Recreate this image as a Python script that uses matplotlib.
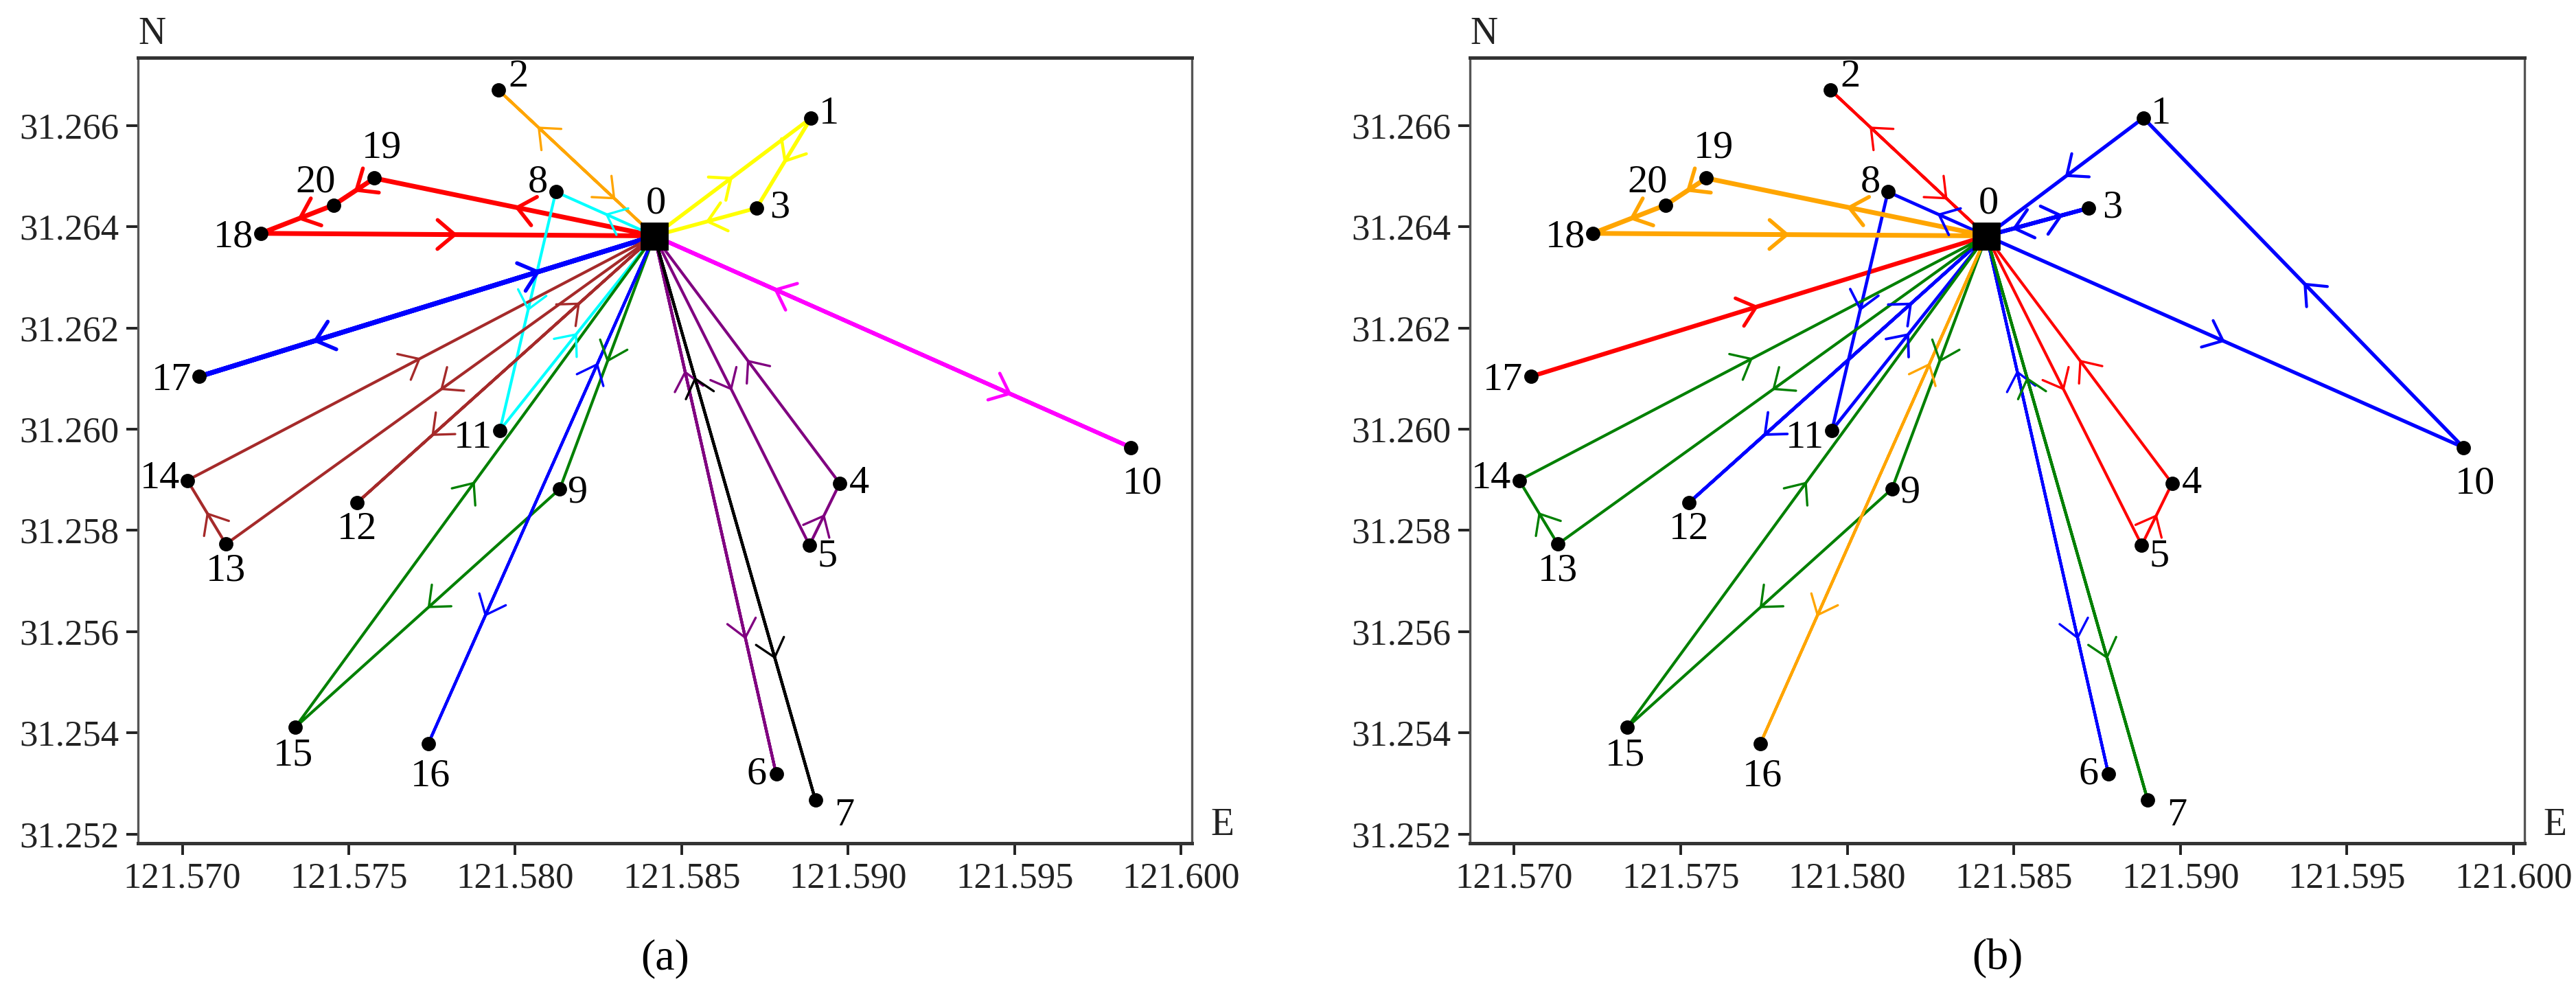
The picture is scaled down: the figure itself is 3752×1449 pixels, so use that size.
"""
Vehicle routes around depot 0, two routing schemes (a) and (b) side by side.
"""

import matplotlib
matplotlib.use("Agg")
import matplotlib.pyplot as plt

plt.rcParams["font.family"] = ["Liberation Serif", "DejaVu Serif"]

# node coordinates (node 0 is the depot)
node_lon = [121.58418, 121.58889, 121.57950, 121.58725, 121.58975, 121.58884,
            121.58784, 121.58902, 121.58122, 121.58134, 121.59850, 121.57954,
            121.57525, 121.57131, 121.57015, 121.57339, 121.57739, 121.57050,
            121.57236, 121.57577, 121.57455]
node_lat = [31.26382, 31.26615, 31.26670, 31.26437, 31.25893, 31.25771,
            31.25319, 31.25267, 31.26469, 31.25882, 31.25964, 31.25998,
            31.25855, 31.25773, 31.25899, 31.25411, 31.25379, 31.26104,
            31.26387, 31.26496, 31.26443]

x_ticks = [121.570, 121.575, 121.580, 121.585, 121.590, 121.595, 121.600]
y_ticks = [31.252, 31.254, 31.256, 31.258, 31.260, 31.262, 31.264, 31.266]

# routes: (node sequence, colour, line width)
routes_a = [
    ([0, 1, 3, 0], "#FFFF00", 2.0),
    ([0, 2, 0], "#FFA500", 1.5),
    ([0, 19, 20, 18, 0], "#FF0000", 2.5),
    ([0, 8, 11, 0], "#00FFFF", 1.5),
    ([0, 17, 0], "#0000FF", 2.5),
    ([0, 13, 14, 0], "#A52A2A", 1.5),
    ([0, 12, 0], "#A52A2A", 1.5),
    ([0, 9, 15, 0], "#008000", 1.5),
    ([0, 16, 0], "#0000FF", 1.5),
    ([0, 5, 4, 0], "#800080", 1.5),
    ([0, 6, 0], "#800080", 1.5),
    ([0, 7, 0], "#000000", 1.5),
    ([0, 10, 0], "#FF00FF", 2.1),
]
routes_b = [
    ([0, 2, 0], "#FF0000", 1.5),
    ([17, 0], "#FF0000", 2.3),
    ([0, 5, 4, 0], "#FF0000", 1.5),
    ([0, 10, 1, 0], "#0000FF", 1.9),
    ([0, 3, 0], "#0000FF", 2.1),
    ([0, 8, 11, 0], "#0000FF", 1.7),
    ([0, 12, 0], "#0000FF", 1.7),
    ([0, 6, 0], "#0000FF", 1.5),
    ([0, 13, 14, 0], "#008000", 1.5),
    ([0, 9, 15, 0], "#008000", 1.5),
    ([0, 7, 0], "#008000", 1.5),
    ([0, 19, 20, 18, 0], "#FFA500", 2.5),
    ([0, 16, 0], "#FFA500", 1.5),
]

# label placement: (dx, dy) in points, horizontal alignment
label_pos = {
    0: (1, 17, "center"), 1: (4, 2, "left"), 2: (5, 7, "left"),
    3: (7, 0, "left"), 4: (5, 0, "left"), 5: (4, -6, "left"),
    6: (-5, 0, "right"), 7: (10, -8, "left"), 8: (-4, 5, "right"),
    9: (4, -2, "left"), 10: (6, -19, "center"), 11: (-4, -4, "right"),
    12: (0, -14, "center"), 13: (0, -14, "center"), 14: (-4, 1, "right"),
    15: (-1, -15, "center"), 16: (1, -17, "center"), 17: (-4, -2, "right"),
    18: (-4, -2, "right"), 19: (4, 16, "center"), 20: (1, 12, "right"),
}


def draw_routes(ax, routes):
    """Draw every route with a chevron on each leg."""
    for seq, color, lw in routes:
        xs = [node_lon[i] for i in seq]
        ys = [node_lat[i] for i in seq]
        ax.plot(xs, ys, color=color, lw=lw, zorder=2, solid_capstyle="round")
        for a, b in zip(seq[:-1], seq[1:]):
            # out-and-back legs get the arrows spread apart
            f = 0.75 if (len(seq) == 3) else 0.5
            x0, y0 = node_lon[a], node_lat[a]
            x1, y1 = node_lon[b], node_lat[b]
            tip = (x0 + f * (x1 - x0), y0 + f * (y1 - y0))
            tail = (x0 + (f - 0.03) * (x1 - x0), y0 + (f - 0.03) * (y1 - y0))
            ax.annotate("", xy=tip, xytext=tail,
                        arrowprops=dict(arrowstyle="->,head_length=0.45,head_width=0.38",
                                        color=color, lw=max(lw * 0.8, 1.2),
                                        shrinkA=0, shrinkB=0, mutation_scale=20),
                        zorder=3)


def style_axes(ax, tag):
    ax.set_xlim(121.56867, 121.60033)
    ax.set_ylim(31.25182, 31.26734)
    ax.set_xticks(x_ticks)
    ax.set_xticklabels([f"{v:.3f}" for v in x_ticks])
    ax.set_yticks(y_ticks)
    ax.set_yticklabels([f"{v:.3f}" for v in y_ticks])
    ax.tick_params(labelsize=19, length=6, width=1.4, pad=4, colors="#222222")
    for side in ["top", "bottom"]:
        ax.spines[side].set_linewidth(1.8)
        ax.spines[side].set_color("#333333")
    for side in ["left", "right"]:
        ax.spines[side].set_linewidth(1.2)
        ax.spines[side].set_color("#555555")
    ax.text(0.0, 1.03, "N", transform=ax.transAxes, fontsize=20,
            ha="left", va="center", color="#222222")
    ax.text(1.018, 0.0, "E", transform=ax.transAxes, fontsize=20,
            ha="left", va="bottom", color="#222222")
    ax.text(0.5, -0.147, tag, transform=ax.transAxes, fontsize=23,
            ha="center", va="center")


def draw_nodes(ax):
    ax.plot(node_lon[1:], node_lat[1:], "o", color="black", ms=6.5, zorder=4)
    ax.plot(node_lon[0], node_lat[0], "s", color="black", ms=14, zorder=5)
    for i in range(len(node_lon)):
        dx, dy, ha = label_pos[i]
        ax.annotate(str(i), (node_lon[i], node_lat[i]), xytext=(dx, dy),
                    textcoords="offset points", fontsize=21, ha=ha, va="center",
                    zorder=6)


fig = plt.figure(figsize=(18.76, 7.245), dpi=200)
ax_a = fig.add_axes([0.0536, 0.1525, 0.4091, 0.7895])
ax_b = fig.add_axes([0.5706, 0.1525, 0.4094, 0.7895])

for ax, routes, tag in [(ax_a, routes_a, "(a)"), (ax_b, routes_b, "(b)")]:
    draw_routes(ax, routes)
    draw_nodes(ax)
    style_axes(ax, tag)

fig.savefig("out.png", dpi=200)
plt.close(fig)
